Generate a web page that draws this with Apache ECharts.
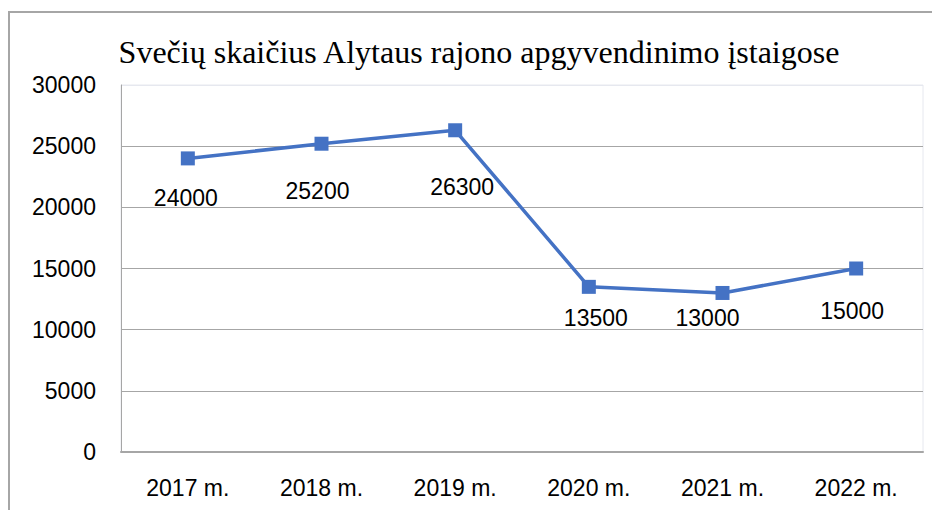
<!DOCTYPE html>
<html>
<head>
<meta charset="utf-8">
<script src="https://cdn.jsdelivr.net/npm/echarts@6/dist/echarts.min.js"></script>
<style>
  html, body { margin: 0; padding: 0; background: #fff; }
  #main { width: 932px; height: 510px; }
</style>
</head>
<body>
<div id="main"></div>
<script>
  var years = ['2017 m.', '2018 m.', '2019 m.', '2020 m.', '2021 m.', '2022 m.'];
  var guests = [24000, 25200, 26300, 13500, 13000, 15000];

  // label offsets below each point (as placed in the original)
  var labelShift = [[-2, 40], [-4, 47], [7, 57], [7, 31], [-15, 25], [-4, 42]];

  var chart = echarts.init(document.getElementById('main'), null, { renderer: 'svg' });

  var points = guests.map(function (v, i) {
    return {
      value: v,
      label: { offset: labelShift[i] }
    };
  });

  var option = {
    animation: false,
    title: {
      text: 'Svečių skaičius Alytaus rajono apgyvendinimo įstaigose',
      left: 474,
      textAlign: 'center',
      top: 31,
      textStyle: {
        fontFamily: 'Liberation Serif',
        fontWeight: 'normal',
        fontSize: 32,
        color: '#000'
      }
    },
    graphic: [{
      type: 'rect',
      shape: { x: 9, y: 12, width: 960, height: 560 },
      style: { fill: 'none', stroke: '#a6a6a6', lineWidth: 2 },
      silent: true
    }],
    grid: {
      left: 121,
      right: 9,
      top: 85,
      bottom: 58,
      show: true,
      borderColor: '#e6e8ef',
      borderWidth: 1
    },
    xAxis: {
      type: 'category',
      data: years,
      boundaryGap: true,
      axisLine: { lineStyle: { color: '#a6a6a6', width: 2 } },
      axisTick: { show: false },
      axisLabel: {
        fontFamily: 'Liberation Sans',
        fontSize: 23,
        color: '#000',
        margin: 24
      }
    },
    yAxis: {
      type: 'value',
      min: 0,
      max: 30000,
      interval: 5000,
      axisLine: { show: true, lineStyle: { color: '#a6a6a6', width: 1 } },
      axisTick: { show: false },
      splitLine: {
        lineStyle: {
          color: ['#a6a6a6', '#a6a6a6', '#a6a6a6', '#a6a6a6', '#a6a6a6', '#a6a6a6', '#e6e8ef'],
          width: 1
        }
      },
      axisLabel: {
        fontFamily: 'Liberation Sans',
        fontSize: 23,
        color: '#000',
        margin: 25,
        formatter: function (v) { return String(v); }
      }
    },
    series: [{
      type: 'line',
      data: points,
      symbol: 'rect',
      symbolSize: 14,
      color: '#4472C4',
      lineStyle: { color: '#4472C4', width: 3.5 },
      itemStyle: { color: '#4472C4' },
      label: {
        show: true,
        position: 'inside',
        fontFamily: 'Liberation Sans',
        fontSize: 23,
        color: '#000'
      }
    }]
  };

  chart.setOption(option);
  window.addEventListener('resize', chart.resize);
</script>
</body>
</html>
